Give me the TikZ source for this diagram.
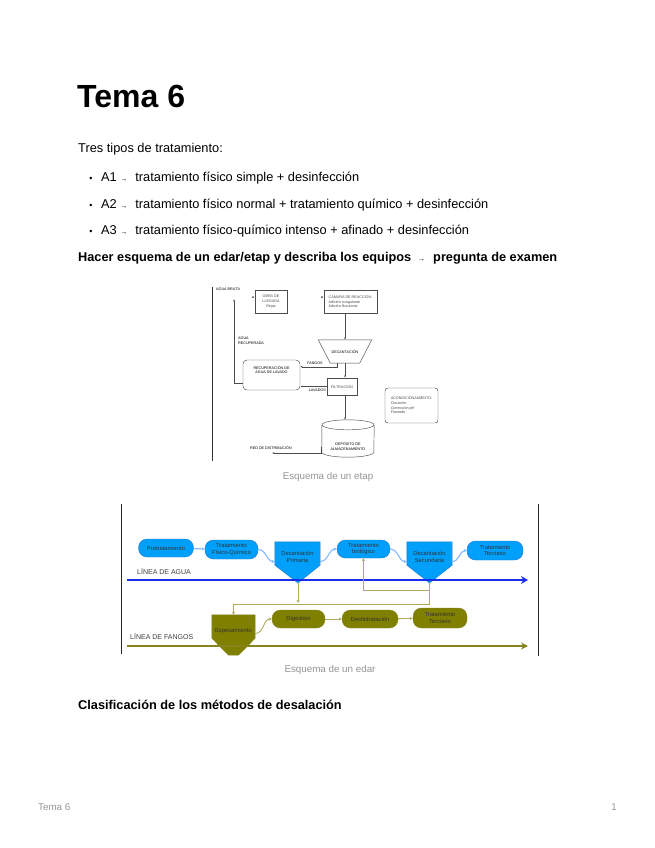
\documentclass[tikz,border=0pt]{standalone}
\usepackage{fontspec}
\setmainfont{Liberation Sans}
\usetikzlibrary{arrows.meta,positioning,calc}

\definecolor{edarblue}{RGB}{0,160,250}
\definecolor{edarborder}{RGB}{40,120,210}
\definecolor{edarlink}{RGB}{130,185,255}
\definecolor{edarline}{RGB}{25,45,235}
\definecolor{edarolive}{RGB}{128,128,0}
\definecolor{edaroliveline}{RGB}{135,132,30}
\definecolor{edarolivelink}{RGB}{175,170,95}
\definecolor{capgray}{RGB}{150,150,150}

\newcommand{\smallarrow}{{\fontsize{7}{7}\selectfont →}}

\begin{document}
\begin{tikzpicture}[
  x=1pt, y=-1pt,
  body/.style={anchor=base west, inner sep=0pt, font=\fontsize{12.8}{15}\selectfont},
  bodybold/.style={body, font=\fontsize{12.75}{15}\selectfont\bfseries},
  caption/.style={anchor=base, inner sep=0pt, text=capgray, font=\fontsize{9.8}{12}\selectfont},
  % etap figure
  etapline/.style={black!70, line width=0.45pt},
  etapbox/.style={etapline, draw, fill=white, inner sep=1pt, font=\fontsize{3.7}{4.6}\selectfont, align=center},
  etaplbl/.style={inner sep=0pt, align=left, font=\fontsize{3.7}{4.6}\selectfont},
  etaparrow/.style={etapline, -{Latex[length=2.2pt,width=1.8pt]}},
  % edar figure
  pill/.style={rounded corners=8.5pt, minimum height=18pt, inner sep=0.5pt, align=center,
    font=\fontsize{5.8}{6.8}\selectfont, text=black!80},
  bluepill/.style={pill, draw=edarborder, fill=edarblue},
  olivepill/.style={pill, draw=edaroliveline, fill=edarolive},
  funnelbody/.style={minimum width=45pt, minimum height=23pt, inner sep=0pt, align=center,
    font=\fontsize{5.8}{6.8}\selectfont, text=black!80},
  bluelink/.style={edarlink, line width=1.1pt, -{Stealth[length=3pt,width=3pt]}},
  olivelink/.style={edarolivelink, line width=0.9pt, -{Stealth[length=3pt,width=3pt]}},
  linelbl/.style={anchor=base west, inner sep=0pt, text=black!75, font=\fontsize{7}{8}\selectfont}
]
\useasboundingbox[fill=white] (0,0) rectangle (655,848);

% page text
\node[anchor=base west, inner sep=0pt, font=\fontsize{32}{36}\selectfont\bfseries] (title) at (77,108) {Tema 6};
\node[body] (intro) at (78,153) {Tres tipos de tratamiento:};
\foreach \n/\y/\txt in {1/181/{tratamiento físico simple + desinfección},
                        2/208/{tratamiento físico normal + tratamiento químico + desinfección},
                        3/234/{tratamiento físico-químico intenso + afinado + desinfección}} {
  \node[anchor=base, inner sep=0pt, font=\fontsize{9}{9}\selectfont] (dot\n) at (91,\y) {•};
  \node[body] (item\n) at (101,\y) {A\n\ \smallarrow\hspace{8pt}\txt};
}
\node[bodybold] (task) at (78,261) {Hacer esquema de un edar/etap y describa los equipos\hspace{7pt}\smallarrow\hspace{8pt}pregunta de examen};

% etap figure
\node[inner sep=0pt] (etapA) at (212,286) {};
\node[inner sep=0pt] (etapB) at (212,462) {};
\draw[black!80, line width=0.8pt] (etapA) -- (etapB);

\node[etaplbl, anchor=north west] (bruta) at (216,288) {AGUA BRUTA};
\node[etapbox, minimum width=32pt, minimum height=23pt] (obra) at (271,301.5) {OBRA DE\\LLEGADA\\Rejas};
\node[etapbox, minimum width=53pt, minimum height=23pt, align=left] (camara) at (350.5,301.5)
  {CÁMARA DE REACCIÓN:\\Adición coagulante\\Adición floculante};
\coordinate (obrain) at (252,297);
\coordinate (camarain) at (321,297);
\draw[etaparrow] (obrain) -- (obrain -| obra.west);
\draw[etaparrow] (camarain) -- (camarain -| camara.west);

\node[etaplbl, minimum width=53pt, minimum height=23pt, align=center] (decant) at (345,351.5) {};
\draw[etapline, fill=white] (decant.north west) -- (decant.north east)
  -- ($(decant.south east)+(-12,0)$) -- ($(decant.south west)+(12,0)$) -- cycle;
\node[etaplbl] at (decant) {DECANTACIÓN};
\draw[etaparrow] (camara.south -| decant.north) -- (decant.north);

\node[etapbox, minimum width=30pt, minimum height=17pt] (filtr) at (342,386.5) {FILTRACIÓN};
\draw[etaparrow] (decant.south) -- (decant.south |- filtr.north);

\node[etapbox, rounded corners=4pt, minimum width=57pt, minimum height=30pt] (recup) at (271.5,375) {};
\node[etaplbl, align=center] at ($(recup.north)+(0,10)$) {RECUPERACIÓN DE\\AGUA DE LAVADO};
\coordinate (fangosA) at (337,363);
\draw[etaparrow] (fangosA) |- ($(recup.north east)+(0,7)$);
\node[etaplbl, anchor=south] (fangoslbl) at (315,365) {FANGOS};
\draw[etaparrow] (filtr.west) -- (filtr.west -| recup.east);
\node[etaplbl, anchor=north east] (lavadoslbl) at (326,389) {LAVADOS};

\coordinate (retA) at (234,299);
\draw[etaparrow] ($(recup.south west)+(0,-7)$) -| (retA);
\node[etaplbl, anchor=north west] (recuplbl) at (238,337) {AGUA\\RECUPERADA};

\node[etapbox, rounded corners=3pt, minimum width=53pt, minimum height=35pt, align=left] (acond) at (411.5,405.5)
  {ACONDICIONAMIENTO:\\Cloración\\Corrección pH\\Fluorado};

\node[etaplbl, minimum width=52pt, minimum height=37pt, align=center] (depo) at (348,438.5) {};
\draw[etapline, fill=white] ($(depo.north west)+(0,5)$) -- ($(depo.south west)+(0,-5)$)
  arc[start angle=180, end angle=360, x radius=26pt, y radius=5pt] -- ($(depo.north east)+(0,5)$);
\draw[etapline, fill=white] ($(depo.north)+(0,5)$) ellipse[x radius=26pt, y radius=5pt];
\node[etaplbl, align=center] at ($(depo)+(0,8)$) {DEPÓSITO DE\\ALMACENAMIENTO};
\draw[etaparrow] (filtr.south -| decant.south) -- (depo.north -| decant.south);

\coordinate (redend) at (272,453);
\draw[etaparrow] ($(depo.west)+(-1,8)$) |- (redend);
\node[etaplbl, anchor=base west] (redlbl) at (250,449) {RED DE DISTRIBUCIÓN};

\node[caption] (cap1) at (328,479) {Esquema de un etap};

% edar figure
\node[inner sep=0pt] (edarL1) at (121,503) {};
\node[inner sep=0pt] (edarL2) at (121,655) {};
\node[inner sep=0pt] (edarR1) at (538,503) {};
\node[inner sep=0pt] (edarR2) at (538,657) {};
\draw[black!85, line width=0.8pt] (edarL1) -- (edarL2);
\draw[black!85, line width=0.8pt] (edarR1) -- (edarR2);

% water line
\node[bluepill, minimum width=55pt] (pretrat) at (166,548) {Pretratamiento};
\node[bluepill, minimum width=53pt, minimum height=19pt] (tfq) at (231.5,549.5) {Tratamiento\\Físico-Químico};
\node[funnelbody] (decprim) at (297.5,553.5) {};
\coordinate (decprimtip) at (298,583);
\draw[draw=edarborder, fill=edarblue] (decprim.north west) -- (decprim.north east) -- (decprim.south east)
  -- (decprimtip) -- (decprim.south west) -- cycle;
\node[funnelbody] at ($(decprim)+(0,3)$) {Decantación\\Primaria};
\node[bluepill, minimum width=53pt] (bio) at (363.5,549) {Tratamiento\\biológico};
\node[funnelbody] (decsec) at (429.5,553.5) {};
\coordinate (decsectip) at (429.5,583);
\draw[draw=edarborder, fill=edarblue] (decsec.north west) -- (decsec.north east) -- (decsec.south east)
  -- (decsectip) -- (decsec.south west) -- cycle;
\node[funnelbody] at ($(decsec)+(0,3)$) {Decantación\\Secundaria};
\node[bluepill, minimum width=56pt, minimum height=19pt] (terc) at (495,550.5) {Tratamiento\\Terciario};

\draw[bluelink] (pretrat) -- (tfq);
\draw[bluelink] (tfq.east) to[out=0, in=180] ($(decprim.west)+(0,8)$);
\draw[bluelink] ($(decprim.east)+(0,8)$) to[out=0, in=180] (bio.west);
\draw[bluelink] (bio.east) to[out=0, in=180] ($(decsec.west)+(0,8)$);
\draw[bluelink] ($(decsec.east)+(0,8)$) to[out=0, in=180] (terc.west);

\node[linelbl] (agualbl) at (137,574) {LÍNEA DE AGUA};
\coordinate (aguaA) at (127,580);
\coordinate (aguaB) at (528,580);
\draw[edarline, line width=2.6pt, -{Stealth[length=7pt,width=8pt]}] (aguaA) -- (aguaB);

% sludge line
\node[funnelbody, minimum width=43pt] (espes) at (233.5,626.5) {};
\draw[draw=edaroliveline, fill=edarolive] (espes.north west) -- (espes.north east) -- (espes.south east)
  -- ($(espes.south)+(5,17)$) -- ($(espes.south)+(-5,17)$) -- (espes.south west) -- cycle;
\node[funnelbody] at ($(espes)+(0,4)$) {Espesamiento};
\node[olivepill, minimum width=53pt] (digest) at (298.5,619) {Digestión};
\node[olivepill, minimum width=56pt] (deshid) at (370,619) {Deshidratación};
\node[olivepill, minimum width=54pt, minimum height=20pt] (tercf) at (440,618) {Tratamiento\\Terciario};

\draw[olivelink] (decprimtip) -- ++(0,20);
\coordinate (recirc) at (429.5,590);
\draw[olivelink] (decsectip) |- ($(espes.north)+(0,-10)$) -- (espes.north);
\draw[olivelink] (recirc) -| (bio.south);
\draw[olivelink] ($(espes.east)+(0,7)$) to[out=0, in=180] (digest.west);
\draw[olivelink] (digest) -- (deshid);
\draw[olivelink] (deshid) -- (tercf);

\node[linelbl] (fangoslin) at (130,639) {LÍNEA DE FANGOS};
\coordinate (fangA) at (127,646);
\coordinate (fangB) at (528,646);
\draw[edaroliveline, line width=2.2pt, -{Stealth[length=7pt,width=7pt]}] (fangA) -- (fangB);

\node[caption] (cap2) at (330,672) {Esquema de un edar};

\node[bodybold] (clasif) at (78,709) {Clasificación de los métodos de desalación};

% footer
\node[anchor=base west, inner sep=0pt, text=capgray, font=\fontsize{9.8}{12}\selectfont] (foot) at (38,810) {Tema 6};
\node[anchor=base east, inner sep=0pt, text=capgray, font=\fontsize{9.8}{12}\selectfont] (page) at (617,810) {1};
\end{tikzpicture}
\end{document}
